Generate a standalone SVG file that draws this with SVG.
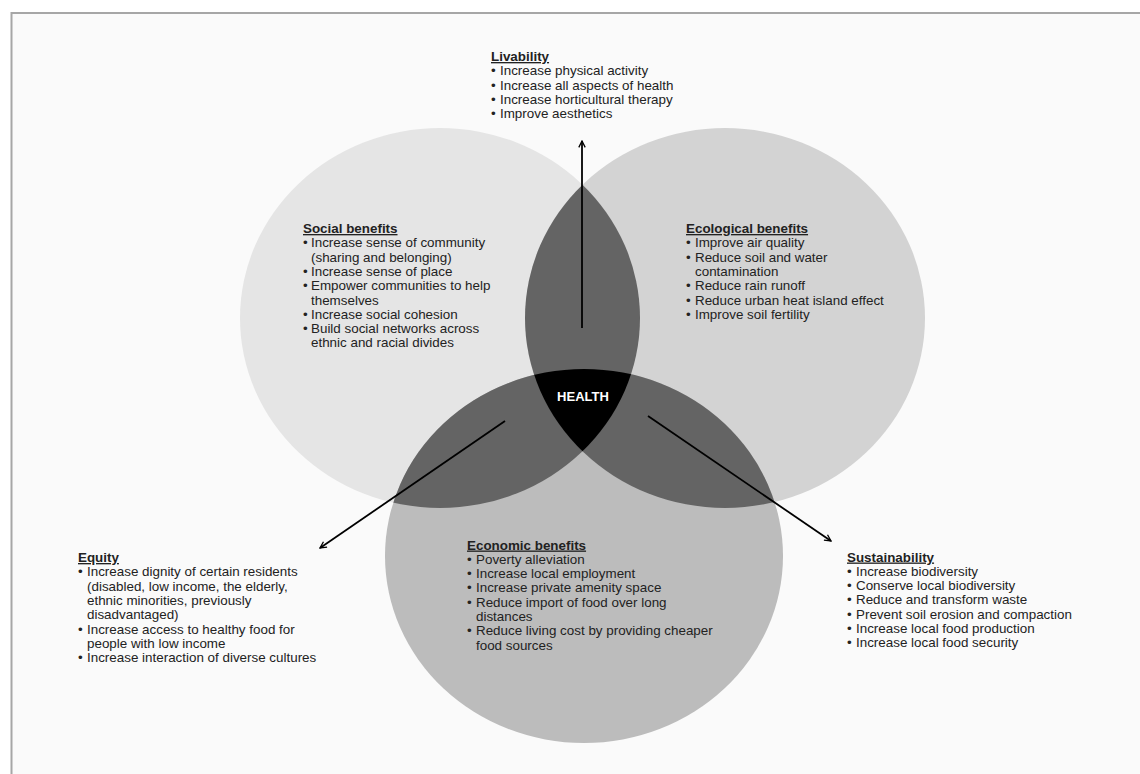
<svg xmlns="http://www.w3.org/2000/svg" width="1140" height="774" viewBox="0 0 1140 774">
<style>
text{font-family:"Liberation Sans",Arial,sans-serif;font-size:13.4px;fill:#222}
.t{font-weight:bold;text-decoration:underline}
.h{font-weight:bold;font-size:13px;fill:#fff;text-anchor:middle}
.c{stroke:#000;stroke-width:1.8;fill:none}
</style>
<defs>
<marker id="ah" viewBox="0 0 10 10" refX="9" refY="5" markerWidth="8" markerHeight="8" markerUnits="userSpaceOnUse" orient="auto">
<path d="M1,1 L9,5 L1,9" fill="none" stroke="#000" stroke-width="1.6"/>
</marker>
<clipPath id="cS"><ellipse cx="440" cy="318" rx="200" ry="190"/></clipPath>
<clipPath id="cE"><ellipse cx="725" cy="318" rx="200" ry="190"/></clipPath>
<clipPath id="cB"><ellipse cx="584" cy="556" rx="199" ry="187"/></clipPath>
</defs>
<rect x="0" y="0" width="1140" height="774" fill="#fff"/>
<rect x="11.5" y="13" width="1140" height="780" fill="#fafafa" stroke="#a6a6a6" stroke-width="2"/>
<g id="venn">
<ellipse cx="440" cy="318" rx="200" ry="190" fill="#e5e5e5"/>
<ellipse cx="725" cy="318" rx="200" ry="190" fill="#d3d3d3"/>
<ellipse cx="584" cy="556" rx="199" ry="187" fill="#bcbcbc"/>
<g clip-path="url(#cS)"><ellipse cx="725" cy="318" rx="200" ry="190" fill="#646464"/><ellipse cx="584" cy="556" rx="199" ry="187" fill="#646464"/></g>
<g clip-path="url(#cE)"><ellipse cx="584" cy="556" rx="199" ry="187" fill="#646464"/></g>
<g clip-path="url(#cS)"><g clip-path="url(#cE)"><ellipse cx="584" cy="556" rx="199" ry="187" fill="#000"/></g></g>
</g>
<g id="health"><text class="h" x="583" y="401">HEALTH</text></g>
<g id="connectors">
<line class="c" x1="582" y1="328" x2="582" y2="141" marker-end="url(#ah)"/>
<line class="c" x1="505" y1="421" x2="320" y2="548" marker-end="url(#ah)"/>
<line class="c" x1="648" y1="416" x2="831" y2="541" marker-end="url(#ah)"/>
</g>
<g id="livability">
<text class="t" x="491" y="61">Livability</text>
<text x="491" y="75.3">•</text><text x="500" y="75.3">Increase physical activity</text>
<text x="491" y="89.6">•</text><text x="500" y="89.6">Increase all aspects of health</text>
<text x="491" y="103.9">•</text><text x="500" y="103.9">Increase horticultural therapy</text>
<text x="491" y="118.2">•</text><text x="500" y="118.2">Improve aesthetics</text>
</g>
<g id="social">
<text class="t" x="303" y="233">Social benefits</text>
<text x="303" y="247.3">•</text><text x="311" y="247.3">Increase sense of community</text>
<text x="311" y="261.6">(sharing and belonging)</text>
<text x="303" y="275.9">•</text><text x="311" y="275.9">Increase sense of place</text>
<text x="303" y="290.2">•</text><text x="311" y="290.2">Empower communities to help</text>
<text x="311" y="304.5">themselves</text>
<text x="303" y="318.8">•</text><text x="311" y="318.8">Increase social cohesion</text>
<text x="303" y="333.1">•</text><text x="311" y="333.1">Build social networks across</text>
<text x="311" y="347.4">ethnic and racial divides</text>
</g>
<g id="ecological">
<text class="t" x="686" y="233">Ecological benefits</text>
<text x="686" y="247.3">•</text><text x="695" y="247.3">Improve air quality</text>
<text x="686" y="261.6">•</text><text x="695" y="261.6">Reduce soil and water</text>
<text x="695" y="275.9">contamination</text>
<text x="686" y="290.2">•</text><text x="695" y="290.2">Reduce rain runoff</text>
<text x="686" y="304.5">•</text><text x="695" y="304.5">Reduce urban heat island effect</text>
<text x="686" y="318.8">•</text><text x="695" y="318.8">Improve soil fertility</text>
</g>
<g id="economic">
<text class="t" x="467" y="549.5">Economic benefits</text>
<text x="467" y="563.8">•</text><text x="476" y="563.8">Poverty alleviation</text>
<text x="467" y="578.1">•</text><text x="476" y="578.1">Increase local employment</text>
<text x="467" y="592.4">•</text><text x="476" y="592.4">Increase private amenity space</text>
<text x="467" y="606.7">•</text><text x="476" y="606.7">Reduce import of food over long</text>
<text x="476" y="621">distances</text>
<text x="467" y="635.3">•</text><text x="476" y="635.3">Reduce living cost by providing cheaper</text>
<text x="476" y="649.6">food sources</text>
</g>
<g id="equity">
<text class="t" x="78" y="562">Equity</text>
<text x="78" y="576.3">•</text><text x="87" y="576.3">Increase dignity of certain residents</text>
<text x="87" y="590.6">(disabled, low income, the elderly,</text>
<text x="87" y="604.9">ethnic minorities, previously</text>
<text x="87" y="619.2">disadvantaged)</text>
<text x="78" y="633.5">•</text><text x="87" y="633.5">Increase access to healthy food for</text>
<text x="87" y="647.8">people with low income</text>
<text x="78" y="662.1">•</text><text x="87" y="662.1">Increase interaction of diverse cultures</text>
</g>
<g id="sustainability">
<text class="t" x="847" y="561.5">Sustainability</text>
<text x="847" y="575.8">•</text><text x="856" y="575.8">Increase biodiversity</text>
<text x="847" y="590.1">•</text><text x="856" y="590.1">Conserve local biodiversity</text>
<text x="847" y="604.4">•</text><text x="856" y="604.4">Reduce and transform waste</text>
<text x="847" y="618.7">•</text><text x="856" y="618.7">Prevent soil erosion and compaction</text>
<text x="847" y="633">•</text><text x="856" y="633">Increase local food production</text>
<text x="847" y="647.3">•</text><text x="856" y="647.3">Increase local food security</text>
</g>
</svg>
